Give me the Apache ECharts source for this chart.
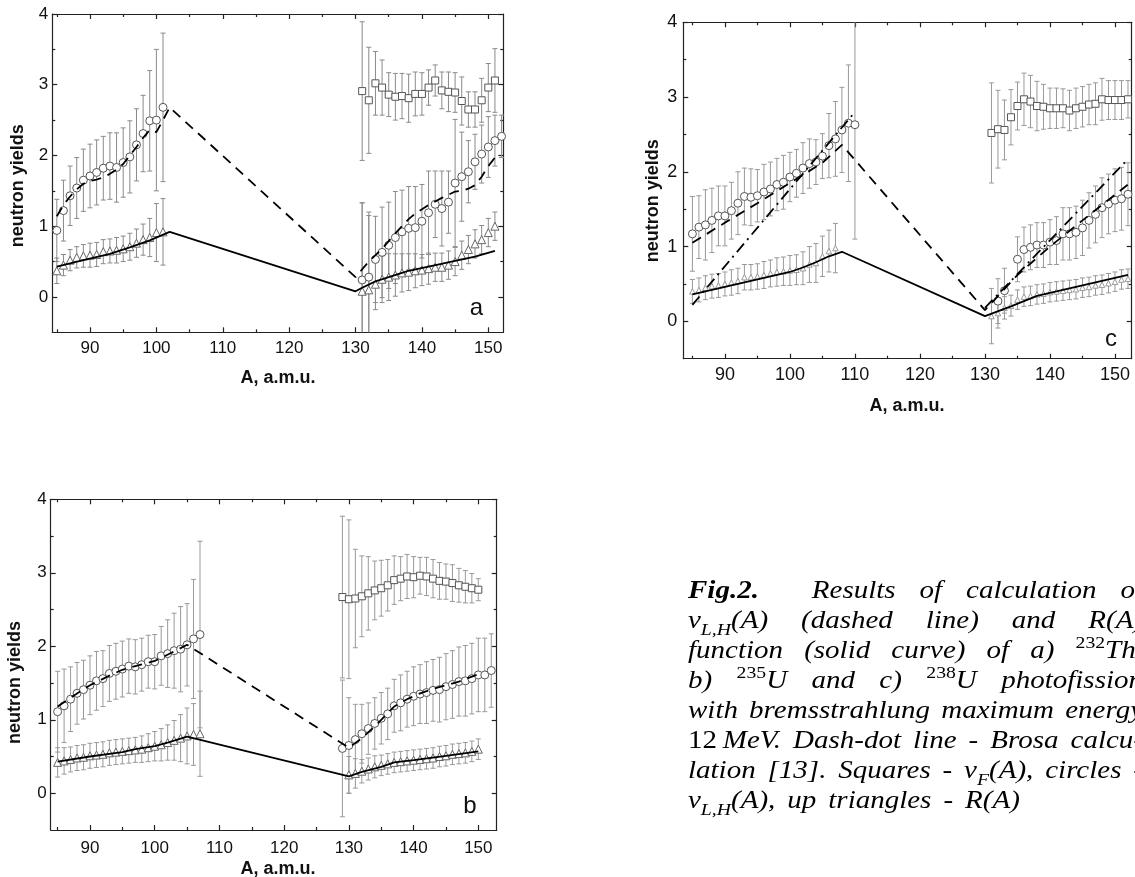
<!DOCTYPE html>
<html><head><meta charset="utf-8">
<script src="https://cdn.jsdelivr.net/npm/echarts@6.0.0/dist/echarts.min.js"></script>
<style>html,body{margin:0;padding:0;background:#fff}#c{width:1135px;height:877px}</style>
</head><body><div id="c"></div><script>
// ---------- tick values ----------
const xMajor = [90,100,110,120,130,140,150];
const xMinor = [85,95,105,115,125,135,145];
const yMajor = [0,1,2,3,4];
const yMinor = [0.5,1.5,2.5,3.5];

// ---------- panel a (232Th) ----------
const aCircL_A = [85,86,87,88,89,90,91,92,93,94,95,96,97,98,99,100,101];
const aCircL_V = [0.94,1.22,1.43,1.54,1.65,1.71,1.76,1.82,1.85,1.83,1.90,1.98,2.15,2.31,2.49,2.50,2.68];
const aCircL_E = [0.44,0.43,0.42,0.43,0.44,0.45,0.46,0.45,0.47,0.49,0.49,0.51,0.51,0.54,0.71,1.00,1.05];
const aTriL_A = [85,86,87,88,89,90,91,92,93,94,95,96,97,98,99,100,101];
const aTriL_V = [0.37,0.45,0.52,0.56,0.58,0.59,0.60,0.64,0.65,0.66,0.68,0.71,0.76,0.81,0.84,0.91,0.92];
const aTriL_E = [0.18,0.15,0.15,0.15,0.16,0.17,0.17,0.17,0.17,0.18,0.18,0.19,0.20,0.22,0.27,0.41,0.47];
const aCircR_A = [131,132,133,134,135,136,137,138,139,140,141,142,143,144,145,146,147,148,149,150,151,152];
const aCircR_V = [0.24,0.28,0.53,0.63,0.73,0.84,0.92,0.97,0.98,1.07,1.19,1.31,1.25,1.34,1.61,1.70,1.77,1.91,2.02,2.12,2.21,2.27];
const aCircR_E = [1.09,0.92,0.61,0.64,0.61,0.65,0.59,0.59,0.58,0.52,0.59,0.47,0.53,0.44,0.90,0.63,0.44,0.39,0.41,0.43,0.36,0.30];
const aSq_A = [131,132,133,134,135,136,137,138,139,140,141,142,143,144,145,146,147,148,149,150,151];
const aSq_V = [2.91,2.78,3.02,2.96,2.86,2.83,2.84,2.81,2.87,2.87,2.96,3.06,2.92,2.90,2.89,2.77,2.65,2.65,2.78,2.96,3.06];
const aSq_E = [0.98,0.75,0.45,0.39,0.31,0.33,0.32,0.34,0.31,0.30,0.25,0.22,0.26,0.28,0.28,0.34,0.25,0.25,0.31,0.34,0.45];
const aTriR_A = [131,132,133,134,135,136,137,138,139,140,141,142,143,144,145,146,147,148,149,150,151];
const aTriR_V = [0.08,0.10,0.18,0.25,0.28,0.31,0.34,0.35,0.37,0.38,0.40,0.42,0.42,0.45,0.50,0.59,0.67,0.75,0.81,0.91,1.00];
const aTriR_E = [1.25,1.05,0.36,0.33,0.33,0.30,0.27,0.26,0.24,0.22,0.22,0.20,0.20,0.20,0.20,0.20,0.20,0.20,0.20,0.20,0.20];
const aSolid_A = [85,89,93,96,99,102,130,131,133,135,137,138,141,145,148,151];
const aSolid_V = [0.43,0.52,0.61,0.70,0.80,0.92,0.08,0.13,0.22,0.28,0.34,0.37,0.43,0.51,0.57,0.65];
const aDash_A = [85,86,87,88,89,90,91,92,93,94,95,96,97,98,99,100,101,102,130,132,134,136,138,139,141,143,145,146,147,148,149,150,151];
const aDash_V = [1.14,1.30,1.42,1.52,1.60,1.64,1.66,1.69,1.74,1.80,1.88,2.00,2.12,2.25,2.36,2.33,2.50,2.68,0.28,0.50,0.68,0.90,1.10,1.18,1.30,1.40,1.49,1.50,1.53,1.58,1.70,1.85,1.97];

// ---------- panel b (235U) ----------
const bCircL_A = [85,86,87,88,89,90,91,92,93,94,95,96,97,98,99,100,101,102,103,104,105,106,107];
const bCircL_V = [1.11,1.19,1.28,1.36,1.41,1.47,1.53,1.56,1.63,1.66,1.69,1.73,1.72,1.75,1.79,1.79,1.87,1.90,1.94,1.96,2.02,2.10,2.16];
const bCircL_E = [0.55,0.50,0.44,0.42,0.40,0.40,0.40,0.38,0.38,0.38,0.38,0.37,0.37,0.36,0.36,0.37,0.40,0.46,0.51,0.58,0.56,0.81,1.27];
const bTriL_A = [85,86,87,88,89,90,91,92,93,94,95,96,97,98,99,100,101,102,103,104,105,106,107];
const bTriL_V = [0.42,0.44,0.46,0.48,0.49,0.51,0.52,0.53,0.55,0.56,0.57,0.58,0.59,0.60,0.62,0.64,0.66,0.69,0.72,0.75,0.78,0.80,0.81];
const bTriL_E = [0.20,0.18,0.17,0.17,0.17,0.17,0.17,0.17,0.17,0.17,0.17,0.17,0.17,0.18,0.19,0.20,0.22,0.24,0.27,0.32,0.38,0.42,0.58];
const bSq_A = [129,130,131,132,133,134,135,136,137,138,139,140,141,142,143,144,145,146,147,148,149,150];
const bSq_V = [2.67,2.64,2.65,2.68,2.72,2.76,2.79,2.83,2.90,2.92,2.95,2.94,2.96,2.95,2.92,2.89,2.88,2.86,2.83,2.81,2.79,2.77];
const bSq_E = [1.10,1.08,0.67,0.55,0.50,0.40,0.38,0.35,0.33,0.30,0.30,0.28,0.25,0.26,0.26,0.25,0.24,0.25,0.23,0.22,0.20,0.15];
const bCircR_A = [129,130,131,132,133,134,135,136,137,138,139,140,141,142,143,144,145,146,147,148,149,150,151,152];
const bCircR_V = [0.61,0.65,0.73,0.81,0.88,0.95,1.02,1.08,1.19,1.23,1.28,1.32,1.35,1.37,1.40,1.41,1.45,1.48,1.52,1.53,1.56,1.61,1.61,1.67];
const bCircR_E = [0.93,0.65,0.48,0.40,0.35,0.35,0.35,0.35,0.36,0.38,0.38,0.40,0.40,0.42,0.42,0.44,0.45,0.46,0.47,0.48,0.48,0.50,0.50,0.50];
const bTriR_A = [130,131,132,133,134,135,136,137,138,139,140,141,142,143,144,145,146,147,148,149,150];
const bTriR_V = [0.25,0.27,0.30,0.33,0.36,0.38,0.40,0.42,0.43,0.44,0.45,0.46,0.47,0.48,0.50,0.51,0.53,0.54,0.55,0.57,0.60];
const bTriR_E = [0.25,0.20,0.16,0.15,0.15,0.14,0.14,0.14,0.14,0.14,0.14,0.14,0.14,0.14,0.14,0.14,0.14,0.14,0.14,0.14,0.14];
const bSolid_A = [85,90,95,97,100,102,105,130,132,135,137,140,145,150];
const bSolid_V = [0.43,0.50,0.56,0.60,0.64,0.69,0.77,0.23,0.29,0.36,0.42,0.45,0.51,0.57];
const bDash_A = [85,87,90,93,95,97,100,103,105,130,132,134,137,139,141,143,145,147,150];
const bDash_V = [1.18,1.30,1.47,1.60,1.68,1.73,1.80,1.93,2.02,0.62,0.75,0.91,1.18,1.28,1.36,1.42,1.47,1.52,1.62];

// ---------- panel c (238U) ----------
const cCircL_A = [85,86,87,88,89,90,91,92,93,94,95,96,97,98,99,100,101,102,103,104,105,106,107,108,109,110];
const cCircL_V = [1.17,1.26,1.29,1.35,1.41,1.41,1.48,1.58,1.67,1.66,1.68,1.73,1.77,1.83,1.86,1.93,1.98,2.05,2.11,2.13,2.21,2.35,2.44,2.56,2.65,2.63];
const cCircL_E = [0.50,0.42,0.47,0.43,0.40,0.40,0.38,0.42,0.38,0.38,0.35,0.37,0.36,0.35,0.36,0.33,0.32,0.34,0.33,0.30,0.30,0.43,0.50,0.57,0.78,1.53];
const cTriL_A = [85,86,87,88,89,90,91,92,93,94,95,96,97,98,99,100,101,102,103,104,105,106,107];
const cTriL_V = [0.40,0.42,0.45,0.47,0.48,0.50,0.52,0.54,0.59,0.59,0.60,0.62,0.64,0.66,0.67,0.68,0.69,0.71,0.76,0.78,0.87,0.94,0.98];
const cTriL_E = [0.16,0.16,0.16,0.16,0.16,0.16,0.17,0.17,0.17,0.17,0.17,0.18,0.18,0.19,0.19,0.20,0.20,0.22,0.24,0.26,0.27,0.28,0.33];
const cSq_A = [131,132,133,134,135,136,137,138,139,140,141,142,143,144,145,146,147,148,149,150,151,152];
const cSq_V = [2.52,2.57,2.56,2.73,2.88,2.97,2.94,2.88,2.87,2.85,2.85,2.85,2.82,2.85,2.87,2.90,2.91,2.97,2.96,2.96,2.96,2.97];
const cSq_E = [0.67,0.52,0.40,0.37,0.32,0.35,0.35,0.33,0.30,0.27,0.27,0.26,0.27,0.27,0.27,0.27,0.28,0.28,0.26,0.26,0.26,0.25];
const cCircR_A = [132,133,135,136,137,138,139,140,141,142,143,144,145,146,147,148,149,150,151,152];
const cCircR_V = [0.27,0.41,0.83,0.96,0.99,1.02,1.02,1.06,1.08,1.17,1.17,1.19,1.25,1.35,1.43,1.52,1.57,1.62,1.64,1.70];
const cCircR_E = [0.30,0.30,0.30,0.30,0.30,0.30,0.30,0.30,0.32,0.35,0.35,0.35,0.37,0.37,0.38,0.40,0.40,0.42,0.42,0.42];
const cTriR_A = [131,132,133,134,135,136,137,138,139,140,141,142,143,144,145,146,147,148,149,150,151,152];
const cTriR_V = [0.07,0.11,0.18,0.21,0.29,0.33,0.34,0.36,0.37,0.39,0.40,0.41,0.42,0.43,0.45,0.46,0.48,0.49,0.51,0.53,0.56,0.57];
const cTriR_E = [0.37,0.20,0.15,0.14,0.13,0.13,0.13,0.13,0.13,0.13,0.13,0.13,0.13,0.13,0.13,0.13,0.13,0.13,0.13,0.13,0.13,0.13];
const cSolid_A = [85,90,95,100,102,104,106,108,130,134,138,145,152];
const cSolid_V = [0.36,0.46,0.56,0.66,0.72,0.79,0.87,0.93,0.07,0.20,0.34,0.48,0.62];
const cDash_A = [85,90,95,100,105,108,130,135,140,145,152];
const cDash_V = [1.05,1.32,1.58,1.85,2.12,2.36,0.15,0.62,1.00,1.35,1.83];
const cDashDotL_A = [85,110];
const cDashDotL_V = [0.22,2.80];
const cDashDotR_A = [130,152];
const cDashDotR_V = [0.18,2.17];

// ---------- text ----------
const yTitle = 'neutron yields';
const xTitle = 'A, a.m.u.';
const panelLetters = ['a','b','c'];
// caption: lines of words; each word is a list of [text, kind] fragments
const captionLines = [
  [[['Fig.2.','b'],['\u2003','b']],[['Results','i']],[['of','i']],[['calculation','i']],[['of','i']]],
  [[['\u03bd','i'],['L,H','sub'],['(A)','i']],[['(dashed','i']],[['line)','i']],[['and','i']],[['R(A)','i']]],
  [[['function','i']],[['(solid','i']],[['curve)','i']],[['of','i']],[['a)','i']],[['232','sup'],['Th,','i']]],
  [[['b)','i']],[['235','sup'],['U','i']],[['and','i']],[['c)','i']],[['238','sup'],['U','i']],[['photofission','i']]],
  [[['with','i']],[['bremsstrahlung','i']],[['maximum','i']],[['energy','i']]],
  [[['12\u2009','r'],['MeV.','i']],[['Dash-dot','i']],[['line','i']],[['-','i']],[['Brosa','i']],[['calcu-','i']]],
  [[['lation','i']],[['[13].','i']],[['Squares','i']],[['-','i']],[['\u03bd','i'],['F','sub'],['(A),','i']],[['circles','i']],[['-','i']]],
  [[['\u03bd','i'],['L,H','sub'],['(A),','i']],[['up','i']],[['triangles','i']],[['-','i']],[['R(A)','i']]]
];
const captionJustified = [true,true,true,true,true,true,true,false];

// ---------- layout (positions / styles) ----------
const panels = [
  {grid:{left:52.3, top:14, width:451, height:318.3}, xmin:84.32, xmax:152.26, lblSize:17, xMargin:8, yMargin:4,
   xT:[278,378], yT:[18.3,185.7], letter:[476.5,308.5], triSize:8, triStroke:'#666', err:'#8a8a8a'},
  {grid:{left:50.7, top:499.3, width:446, height:330.7}, xmin:83.93, xmax:152.84, lblSize:17, xMargin:10, yMargin:4,
   xT:[278,869], yT:[15,682.5], letter:[470,806.5], triSize:8, triStroke:'#666', err:'#999'},
  {grid:{left:683.3, top:22.3, width:448.4, height:336.4}, xmin:83.6, xmax:152.57, lblSize:18, xMargin:7, yMargin:6,
   xT:[907,406.5], yT:[653.3,200.8], letter:[1111,339.5], triSize:5.5, triStroke:'#999', err:'#999'}
];
const AX = '#222';
const FONT = '"Liberation Sans", Arial, sans-serif';

function mkX(g, p) {
  const base = {type:'value', gridIndex:g, min:p.xmin, max:p.xmax, splitLine:{show:false}, axisPointer:{show:false}};
  const tick = (vals, len) => ({show:true, inside:true, length:len, customValues:vals, lineStyle:{color:AX, width:1.2}});
  return [
    Object.assign({}, base, {position:'bottom', axisLine:{show:true, onZero:false, lineStyle:{color:AX, width:1.2}},
      axisTick:tick(xMajor,5), axisLabel:{show:true, customValues:xMajor, fontSize:p.lblSize, fontFamily:FONT, color:'#111', margin:p.xMargin}}),
    Object.assign({}, base, {position:'bottom', axisLine:{show:false, onZero:false}, axisTick:tick(xMinor,3), axisLabel:{show:false}}),
    Object.assign({}, base, {position:'top', axisLine:{show:true, onZero:false, lineStyle:{color:AX, width:1.2}}, axisTick:tick(xMajor,5), axisLabel:{show:false}}),
    Object.assign({}, base, {position:'top', axisLine:{show:false, onZero:false}, axisTick:tick(xMinor,3), axisLabel:{show:false}})
  ];
}
function mkY(g, p) {
  const base = {type:'value', gridIndex:g, min:-0.5, max:4, splitLine:{show:false}, axisPointer:{show:false}};
  const tick = (vals, len) => ({show:true, inside:true, length:len, customValues:vals, lineStyle:{color:AX, width:1.2}});
  return [
    Object.assign({}, base, {position:'left', axisLine:{show:true, onZero:false, lineStyle:{color:AX, width:1.2}},
      axisTick:tick(yMajor,5), axisLabel:{show:true, customValues:yMajor, fontSize:p.lblSize, fontFamily:FONT, color:'#111', margin:p.yMargin}}),
    Object.assign({}, base, {position:'left', axisLine:{show:false, onZero:false}, axisTick:tick(yMinor,3), axisLabel:{show:false}}),
    Object.assign({}, base, {position:'right', axisLine:{show:true, onZero:false, lineStyle:{color:AX, width:1.2}}, axisTick:tick(yMajor,5), axisLabel:{show:false}}),
    Object.assign({}, base, {position:'right', axisLine:{show:false, onZero:false}, axisTick:tick(yMinor,3), axisLabel:{show:false}})
  ];
}
function errS(g, A, V, E, color) {
  return {type:'custom', xAxisIndex:4*g, yAxisIndex:4*g, z:2, silent:true, clip:true, animation:false,
    encode:{x:0, y:[1,2]},
    data: A.map((a,k)=>[a, V[k]-E[k], V[k]+E[k]]),
    renderItem: function(params, api) {
      const lo = api.coord([api.value(0), api.value(1)]);
      const hi = api.coord([api.value(0), api.value(2)]);
      const w = 2.5, st = {stroke:color, lineWidth:1};
      return {type:'group', children:[
        {type:'line', shape:{x1:lo[0], y1:lo[1], x2:hi[0], y2:hi[1]}, style:st},
        {type:'line', shape:{x1:lo[0]-w, y1:lo[1], x2:lo[0]+w, y2:lo[1]}, style:st},
        {type:'line', shape:{x1:hi[0]-w, y1:hi[1], x2:hi[0]+w, y2:hi[1]}, style:st}
      ]};
    }};
}
function scat(g, A, V, symbol, size, stroke) {
  return {type:'scatter', xAxisIndex:4*g, yAxisIndex:4*g, symbol:symbol, symbolSize:size, z:3, silent:true, animation:false,
    itemStyle:{color:'#fff', borderColor:stroke, borderWidth:1, opacity:1},
    data: A.map((a,k)=>[a, V[k]])};
}
function lineS(g, A, V, type, width) {
  return {type:'line', xAxisIndex:4*g, yAxisIndex:4*g, showSymbol:false, symbol:'none', z:5, silent:true, animation:false,
    lineStyle:{color:'#000', width:width, type:type}, data: A.map((a,k)=>[a, V[k]])};
}

const DASH = [10,7], DASHDOT = [11,5,2,5];
const series = [];
function panelSeries(g, p, groups, lines) {
  groups.forEach(gr => series.push(errS(g, gr[0], gr[1], gr[2], p.err)));
  groups.forEach(gr => series.push(scat(g, gr[0], gr[1], gr[3], gr[3]==='triangle'?p.triSize:(gr[3]==='rect'?7:8), gr[3]==='triangle'?p.triStroke:'#555')));
  lines.forEach(l => series.push(lineS(g, l[0], l[1], l[2], l[3])));
}
panelSeries(0, panels[0], [
  [aCircL_A,aCircL_V,aCircL_E,'circle'],[aTriL_A,aTriL_V,aTriL_E,'triangle'],
  [aSq_A,aSq_V,aSq_E,'rect'],[aCircR_A,aCircR_V,aCircR_E,'circle'],[aTriR_A,aTriR_V,aTriR_E,'triangle']],
  [[aSolid_A,aSolid_V,'solid',1.8],[aDash_A,aDash_V,DASH,1.8]]);
panelSeries(1, panels[1], [
  [bCircL_A,bCircL_V,bCircL_E,'circle'],[bTriL_A,bTriL_V,bTriL_E,'triangle'],
  [bSq_A,bSq_V,bSq_E,'rect'],[bCircR_A,bCircR_V,bCircR_E,'circle'],[bTriR_A,bTriR_V,bTriR_E,'triangle']],
  [[bSolid_A,bSolid_V,'solid',1.8],[bDash_A,bDash_V,DASH,1.8]]);
panelSeries(2, panels[2], [
  [cCircL_A,cCircL_V,cCircL_E,'circle'],[cTriL_A,cTriL_V,cTriL_E,'triangle'],
  [cSq_A,cSq_V,cSq_E,'rect'],[cCircR_A,cCircR_V,cCircR_E,'circle'],[cTriR_A,cTriR_V,cTriR_E,'triangle']],
  [[cSolid_A,cSolid_V,'solid',1.8],[cDash_A,cDash_V,DASH,1.8],[cDashDotL_A,cDashDotL_V,DASHDOT,1.8],[cDashDotR_A,cDashDotR_V,DASHDOT,1.8]]);

// ---------- graphic texts ----------
const graphic = [];
panels.forEach((p, g) => {
  graphic.push({type:'text', x:p.xT[0], y:p.xT[1], silent:true,
    style:{text:xTitle, font:'bold 18px ' + FONT, fill:'#111', align:'center', verticalAlign:'middle', textAlign:'center', textVerticalAlign:'middle'}});
  graphic.push({type:'text', x:p.yT[0], y:p.yT[1], rotation:Math.PI/2, silent:true,
    style:{text:yTitle, font:'bold 18px ' + FONT, fill:'#111', align:'center', verticalAlign:'middle', textAlign:'center', textVerticalAlign:'middle'}});
  graphic.push({type:'text', x:p.letter[0], y:p.letter[1], silent:true,
    style:{text:panelLetters[g], font:'24px ' + FONT, fill:'#111', align:'center', verticalAlign:'middle', textAlign:'center', textVerticalAlign:'middle'}});
});

// caption layout: horizontally stretched serif text, justified between capLeft and capRight
const SERIF = '"Liberation Serif", "DejaVu Serif", serif';
const capFonts = {
  i:'italic 25px ' + SERIF, b:'italic bold 25px ' + SERIF, r:'25px ' + SERIF,
  sub:'italic 17px ' + SERIF, sup:'17px ' + SERIF};
const capDy = {i:0, b:0, r:0, sub:6, sup:-11};
const capMid = {i:8.3, b:8.3, r:8.3, sub:5.7, sup:5.7};
const capScale = 1.16;
const capLeft = 688, capRight = 1143, capTop = 600, capStep = 30, capSpace = 12;
const mctx = document.createElement('canvas').getContext('2d');
function textW(t, kind) { mctx.font = capFonts[kind]; return mctx.measureText(t).width * capScale; }
captionLines.forEach((words, li) => {
  const widths = words.map(w => w.reduce((s, f) => s + textW(f[0], f[1]), 0));
  const total = widths.reduce((s, v) => s + v, 0);
  const gap = captionJustified[li] ? (capRight - capLeft - total) / (words.length - 1) : capSpace;
  const base = capTop + capStep * li;
  let x = capLeft;
  words.forEach((w, wi) => {
    let fx = x;
    w.forEach(f => {
      if (f[0].trim() !== '') {
        graphic.push({type:'text', x:fx, y:base + capDy[f[1]] - capMid[f[1]], scaleX:capScale, silent:true,
          style:{text:f[0], font:capFonts[f[1]], fill:'#000', align:'left', verticalAlign:'middle', textAlign:'left', textVerticalAlign:'middle'}});
      }
      fx += textW(f[0], f[1]);
    });
    x += widths[wi] + gap;
  });
});

const chart = echarts.init(document.getElementById('c'), null, {renderer:'canvas'});
chart.setOption({
  animation:false,
  backgroundColor:'#fff',
  grid: panels.map(p => Object.assign({outerBoundsMode:'none', containLabel:false}, p.grid)),
  xAxis: [].concat(mkX(0,panels[0]), mkX(1,panels[1]), mkX(2,panels[2])),
  yAxis: [].concat(mkY(0,panels[0]), mkY(1,panels[1]), mkY(2,panels[2])),
  series: series,
  graphic: graphic
});
</script></body></html>
